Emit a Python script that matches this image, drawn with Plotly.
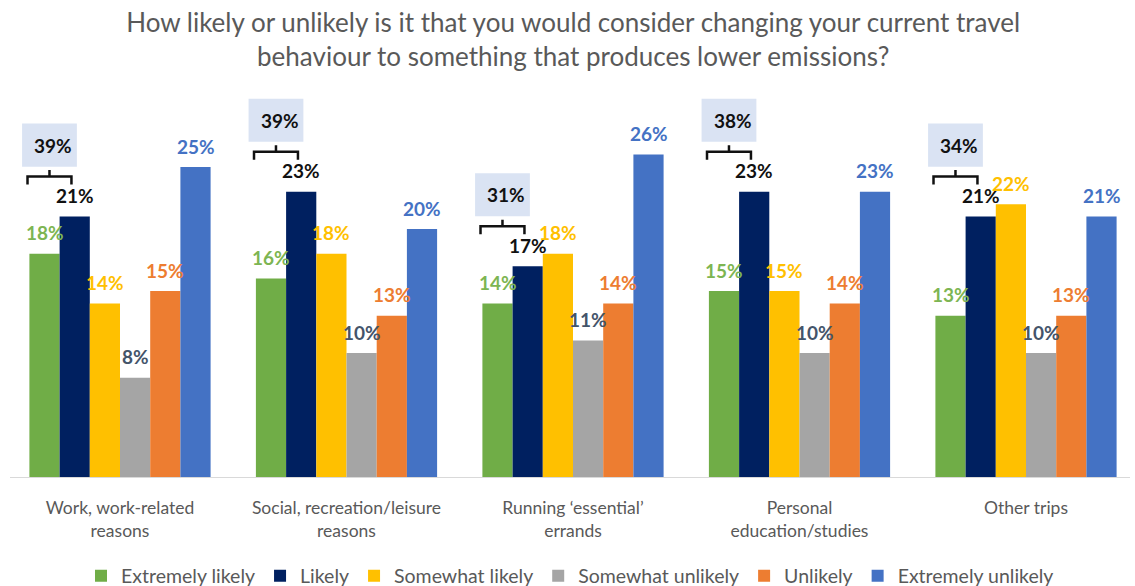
import plotly.graph_objects as go

categories = ["Work, work-related<br>reasons", "Social, recreation/leisure<br>reasons",
              "Running ‘essential’<br>errands", "Personal<br>education/studies", "Other trips"]
series_names = ["Extremely likely", "Likely", "Somewhat likely", "Somewhat unlikely",
                "Unlikely", "Extremely unlikely"]
extremely_likely = [18, 16, 14, 15, 13]
likely = [21, 23, 17, 23, 21]
somewhat_likely = [14, 18, 18, 15, 22]
somewhat_unlikely = [8, 10, 11, 10, 10]
unlikely = [15, 13, 14, 14, 13]
extremely_unlikely = [25, 20, 26, 23, 21]
likely_totals = [39, 39, 31, 38, 34]

series_values = [extremely_likely, likely, somewhat_likely, somewhat_unlikely,
                 unlikely, extremely_unlikely]
bar_colors = ["#70AD47", "#002060", "#FFC000", "#A5A5A5", "#ED7D31", "#4472C4"]
label_colors = ["#7DB552", "#111111", "#FFC000", "#44546A", "#ED7D31", "#4472C4"]

FONT = "Lato"
x_idx = list(range(len(categories)))
bargap = 0.2
nser = len(series_names)
bw = (1 - bargap) / nser

fig = go.Figure()
for name, vals, col in zip(series_names, series_values, bar_colors):
    fig.add_trace(go.Bar(x=x_idx, y=vals, name=name, marker=dict(color=col, line=dict(width=0)),
                         hoverinfo="skip"))

annotations = []
shapes = []
# data labels
for j, vals in enumerate(series_values):
    for i, v in enumerate(vals):
        annotations.append(dict(x=i + (j - (nser - 1) / 2) * bw, y=v, xref="x", yref="y",
                                text=f"{v}%", showarrow=False, yanchor="middle", yshift=21,
                                font=dict(family=FONT, size=19, color=label_colors[j], weight="bold")))

# total boxes and brackets
for i, tot in enumerate(likely_totals):
    v = likely[i]
    cx = i + (0 - (nser - 1) / 2) * bw + 0.022
    shapes.append(dict(type="rect", xref="x", yref="y", x0=cx - 0.121, x1=cx + 0.121,
                       y0=v + 4.03, y1=v + 7.5, fillcolor="#DAE3F3", line=dict(width=0),
                       layer="below"))
    annotations.append(dict(x=cx, y=v + 5.77, xref="x", yref="y", text=f"{tot}%",
                            showarrow=False, xshift=4,
                            font=dict(family=FONT, size=19, color="#111111", weight="bold")))
    hw = 0.097
    path = (f"M {cx - hw},{v + 2.58} L {cx - hw},{v + 3.23} L {cx + hw},{v + 3.23} "
            f"L {cx + hw},{v + 2.58} M {cx},{v + 3.23} L {cx},{v + 3.75}")
    shapes.append(dict(type="path", xref="x", yref="y", path=path,
                       line=dict(color="#111111", width=2.5)))

fig.update_layout(
    width=1135, height=586,
    barmode="group", bargap=bargap, bargroupgap=0,
    plot_bgcolor="white", paper_bgcolor="white",
    margin=dict(l=10, r=5, t=60, b=109),
    title=dict(text="How likely or unlikely is it that you would consider changing your current travel<br>"
                    "behaviour to something that produces lower emissions?",
               x=0.505, xref="container", xanchor="center",
               y=1 - 32 / 586, yref="container", yanchor="middle",
               font=dict(family=FONT, size=26, color="#595959")),
    xaxis=dict(tickmode="array", tickvals=x_idx, ticktext=categories,
               range=[-110 / 226.5, 4 + 104 / 226.5], showgrid=False, zeroline=False,
               showline=True, linecolor="#D9D9D9", linewidth=1, ticks="",
               tickfont=dict(family=FONT, size=17.5, color="#595959"), ticklabelstandoff=15),
    yaxis=dict(range=[0, 417 / 12.4], visible=False, showgrid=False, zeroline=False),
    legend=dict(orientation="h", x=0.5, xanchor="center", y=10 / 586, yref="container",
                yanchor="middle", font=dict(family=FONT, size=19.5, color="#595959"),
                itemwidth=30, traceorder="normal"),
    annotations=annotations, shapes=shapes,
)

fig.write_html("out.html")
